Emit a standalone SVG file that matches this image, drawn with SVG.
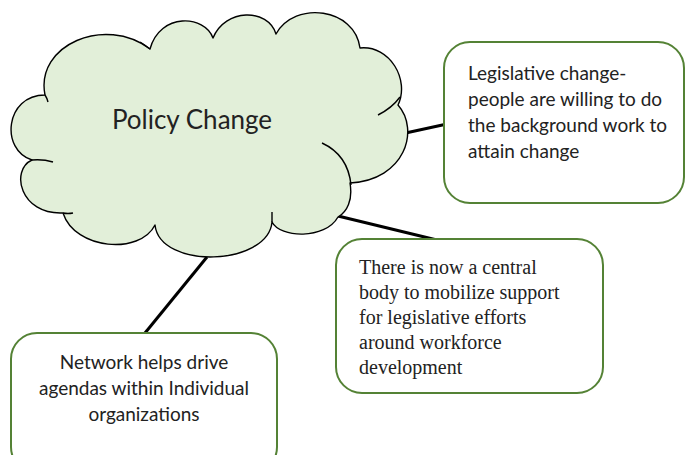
<svg xmlns="http://www.w3.org/2000/svg" width="686" height="455" viewBox="0 0 686 455">
<style>
.cloud{fill:#e2efd9;stroke:#000;stroke-width:1.4;stroke-linejoin:round}
.stub{fill:none;stroke:#000;stroke-width:1.4}
.box{fill:#fff;stroke:#548235;stroke-width:2}
.conn{stroke:#000;stroke-width:3;fill:none}
.sans{font-family:Lato,"Open Sans","Liberation Sans",sans-serif;fill:#222}
.serif{font-family:"Liberation Serif","Times New Roman",serif;fill:#222}
</style>
<rect width="686" height="455" fill="#fff"/>
<g id="connectors">
<line class="conn" x1="401" y1="134" x2="447" y2="124"/>
<line class="conn" x1="338" y1="216" x2="441" y2="241"/>
<line class="conn" x1="207" y1="257" x2="145" y2="333"/>
</g>
<g id="policy-change">
<path class="cloud" d="M150,49 C160,12 205,15 213,38 C225,8 268,8 276,34 C295,0 355,8 360,48 C390,45 410,80 398,105 C420,130 405,180 350,183 C353,200 347,212 338,217 C325,240 280,238 272,222 C268,266 160,270 155,225 C140,255 75,250 63,213 C20,215 10,170 32,160 C0,150 5,95 45,95 C35,45 105,15 150,49 Z"/>
<path class="stub" d="M322,143 Q348,155 351,185"/>
<path class="stub" d="M378,115 Q392,108 400,97"/>
<path class="stub" d="M272,222 L272,212"/>
<path class="stub" d="M63,213 Q68,214 73,213"/>
<path class="stub" d="M32,160 Q43,159 53,162"/>
<path class="stub" d="M45,95 Q47,98 48,102"/>
<path class="stub" d="M150,49 Q145,45 140,42"/>
<text class="sans" x="192" y="129" font-size="26" text-anchor="middle">Policy Change</text>
</g>
<g id="legislative-change">
<rect class="box" x="444" y="42" width="240" height="161" rx="26"/>
<text class="sans" font-size="19"><tspan x="468" y="80">Legislative change-</tspan><tspan x="468" y="106">people are willing to do</tspan><tspan x="468" y="132">the background work to</tspan><tspan x="468" y="158">attain change</tspan></text>
</g>
<g id="central-body">
<rect class="box" x="336" y="239" width="267" height="154" rx="26"/>
<text class="serif" font-size="20"><tspan x="359" y="274">There is now a central</tspan><tspan x="359" y="299">body to mobilize support</tspan><tspan x="359" y="324">for legislative efforts</tspan><tspan x="359" y="349">around workforce</tspan><tspan x="359" y="374">development</tspan></text>
</g>
<g id="network">
<rect class="box" x="11" y="333" width="266" height="140" rx="26"/>
<text class="sans" font-size="19" text-anchor="middle"><tspan x="144" y="369">Network helps drive</tspan><tspan x="144" y="395">agendas within Individual</tspan><tspan x="144" y="421">organizations</tspan></text>
</g>
</svg>
